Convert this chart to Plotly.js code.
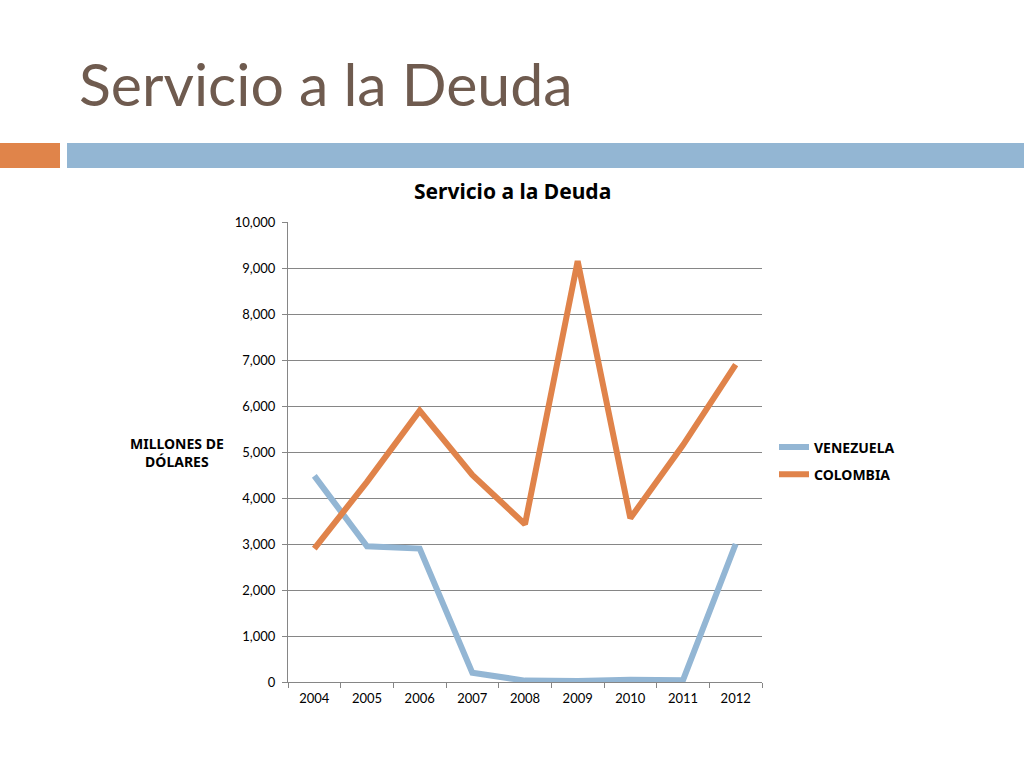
<!DOCTYPE html>
<html>
<head>
<meta charset="utf-8">
<script src="https://cdn.plot.ly/plotly-3.0.1.min.js"></script>
<style>
html,body{margin:0;padding:0;background:#fff;}
#chart{width:1024px;height:768px;}
</style>
</head>
<body>
<div id="chart"></div>
<script>
const years = ['2004','2005','2006','2007','2008','2009','2010','2011','2012'];
const venezuela = [4480, 2950, 2900, 200, 30, 20, 50, 40, 3000];
const colombia = [2900, 4350, 5900, 4500, 3430, 9150, 3560, 5150, 6900];
const seriesNames = ['VENEZUELA', 'COLOMBIA'];
const yTicks = [0,1000,2000,3000,4000,5000,6000,7000,8000,9000,10000];

// plot area in pixels
const L = 288, R = 762, T = 222, B = 682;
const W = R - L, H = B - T;
const px = x => (x - L) / W;
const py = y => (B - y) / H;

const traces = [
  {x: years, y: venezuela, name: seriesNames[0], legendgroup: 'v', type: 'scatter', mode: 'lines',
   line: {color: '#93b6d4', width: 6}},
  {x: years, y: colombia, name: seriesNames[1], legendgroup: 'c', type: 'scatter', mode: 'lines',
   line: {color: '#e0834a', width: 6}}
];

const layout = {
  width: 1024, height: 768,
  margin: {l: L, r: 1024 - R, t: T, b: 768 - B, pad: 0},
  paper_bgcolor: '#ffffff', plot_bgcolor: '#ffffff',
  font: {family: 'Lato, "DejaVu Sans", sans-serif', color: '#000000', size: 13},
  showlegend: true,
  legend: {x: px(774), y: py(461), xanchor: 'left', yanchor: 'middle',
           font: {family: '"Noto Sans", "Liberation Sans", sans-serif', size: 14, color: '#000', weight: 'bold'},
           tracegroupgap: 6, itemwidth: 30, bgcolor: 'rgba(0,0,0,0)'},
  xaxis: {type: 'category', range: [-0.5, 8.5], showgrid: false, zeroline: false,
          showline: true, linecolor: '#868686', linewidth: 1,
          ticks: 'outside', tickson: 'boundaries', ticklen: 5, tickcolor: '#868686',
          ticklabelstandoff: 4,
          tickfont: {size: 13, color: '#000'}, fixedrange: true},
  yaxis: {range: [0, 10000], tickvals: yTicks, tickformat: ',d',
          showgrid: true, gridcolor: '#868686', gridwidth: 1, zeroline: false,
          showline: true, linecolor: '#868686', linewidth: 1,
          ticks: 'outside', ticklen: 5, tickcolor: '#868686',
          ticklabelstandoff: 4,
          tickfont: {size: 13, color: '#000'}, fixedrange: true},
  shapes: [
    {type: 'rect', xref: 'paper', yref: 'paper', x0: px(0), x1: px(60), y0: py(168), y1: py(143),
     fillcolor: '#e0844a', line: {width: 0}},
    {type: 'rect', xref: 'paper', yref: 'paper', x0: px(67), x1: px(1024), y0: py(168), y1: py(143),
     fillcolor: '#93b6d3', line: {width: 0}}
  ],
  annotations: [
    {text: 'Servicio a la Deuda', xref: 'paper', yref: 'paper', x: px(77), y: py(84),
     xanchor: 'left', yanchor: 'middle', showarrow: false,
     font: {family: 'Lato, "DejaVu Sans", sans-serif', size: 59, color: '#6f5b4f'}},
    {text: '<b>Servicio a la Deuda</b>', xref: 'paper', yref: 'paper', x: px(512), y: py(191),
     xanchor: 'center', yanchor: 'middle', showarrow: false,
     font: {family: '"Noto Sans", "Liberation Sans", sans-serif', size: 21, color: '#000'}},
    {text: '<b>MILLONES DE<br>DÓLARES</b>', xref: 'paper', yref: 'paper', x: px(177), y: py(452),
     xanchor: 'center', yanchor: 'middle', showarrow: false, align: 'center',
     font: {family: '"Noto Sans", "Liberation Sans", sans-serif', size: 14, color: '#000'}}
  ]
};

Plotly.newPlot('chart', traces, layout, {staticPlot: true, displayModeBar: false});
</script>
</body>
</html>
